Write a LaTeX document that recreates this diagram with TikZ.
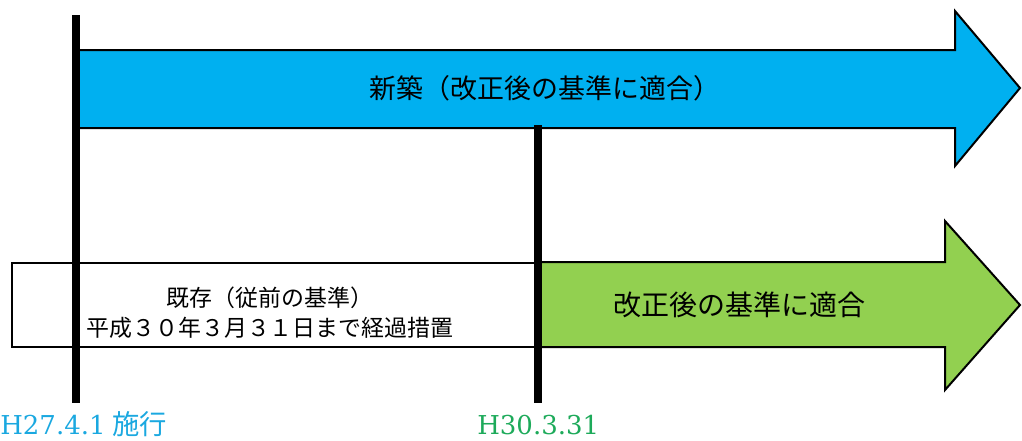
\documentclass[tikz,border=0pt]{standalone}
\usepackage{fontspec}
\setmainfont{DejaVu Serif}
\newfontfamily\cjk{Noto Sans CJK JP}
\definecolor{arrowblue}{HTML}{00B0F0}
\definecolor{arrowgreen}{HTML}{92D050}
\definecolor{lblblue}{HTML}{1AA8E0}
\definecolor{lblgreen}{HTML}{1DAA5A}
\tikzset{
  arrowshape/.style={draw=black, line width=1.5pt, line join=miter},
  timeline/.style={draw=black, line width=5.5pt},
  jtext/.style={font=\cjk, text=black, inner sep=0pt},
  datelabel/.style={anchor=base west, inner sep=0pt, font=\fontsize{19.5pt}{24pt}\selectfont},
}
\begin{document}
\begin{tikzpicture}[x=0.75pt,y=-0.75pt]
\useasboundingbox (0,0) rectangle (1022,440);
% blue arrow
\path[arrowshape, fill=arrowblue] (76,50) -- (955,50) -- (955,11) -- (1020,88) -- (955,166) -- (955,128) -- (76,128) -- cycle;
% green arrow
\path[arrowshape, fill=arrowgreen] (538,262) -- (945,262) -- (945,221) -- (1020,305) -- (945,390) -- (945,347) -- (538,347) -- cycle;
% white box
\path[arrowshape, fill=white] (12,263) rectangle (538,347);
% vertical lines
\coordinate (l1t) at (76,15);
\coordinate (l1b) at (76,403);
\coordinate (l2t) at (538,125);
\coordinate (l2b) at (538,403);
\draw[timeline] (l1t) -- (l1b);
\draw[timeline] (l2t) -- (l2b);
% texts
\node[jtext, font=\cjk\fontsize{20.2pt}{24pt}\selectfont] (new) at (545,88) {新築（改正後の基準に適合）};
\node[jtext, font=\cjk\fontsize{21pt}{24pt}\selectfont] (fit) at (739,305) {改正後の基準に適合};
\node[jtext, font=\cjk\fontsize{17.2pt}{22.5pt}\selectfont, align=center] (old) at (270,313) {既存（従前の基準）\\平成３０年３月３１日まで経過措置};
\node[datelabel, text=lblblue] (d1) at (0,434) {H27.4.1\hspace{5pt}{\cjk\fontsize{20.5pt}{24pt}\selectfont 施行}};
\node[datelabel, text=lblgreen] (d2) at (477,434) {H30.3.31};
\end{tikzpicture}
\end{document}
